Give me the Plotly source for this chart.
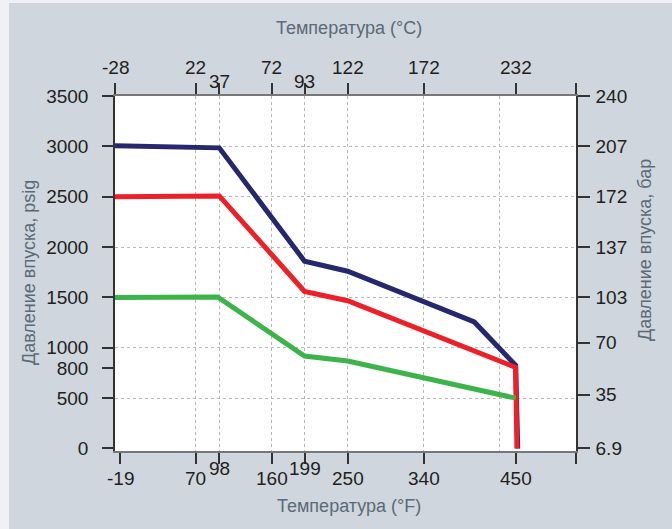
import plotly.graph_objects as go

# ---- data ----
navy_f = [-25.5, 90, 98, 199, 250, 400, 449, 451.5]
navy_p = [3005, 2995, 2985, 1860, 1760, 1256, 825, 0]

red_f = [-25.5, 98, 199, 250, 449, 450.5]
red_p = [2500, 2508, 1560, 1467, 805, 0]

green_f = [-25.5, 96, 199, 250, 449]
green_p = [1500, 1505, 918, 869, 500]

# bottom axis (°F) ticks
f_ticks = [-19, 70, 98, 160, 199, 250, 340, 450]
f_labels = ["-19", "70", "98", "160", "199", "250", "340", "450"]
f_raised = [False, False, True, False, True, False, False, False]

# top axis (°C) ticks placed at equivalent °F positions
c_pos = [-25.4, 70, 98, 160, 199, 250, 340, 450]
c_labels = ["-28", "22", "37", "72", "93", "122", "172", "232"]
c_lowered = [False, False, True, False, True, False, False, False]

# vertical grid positions (°F)
x_grid = [70, 98, 160, 199, 250, 340, 430]

# left axis (psig)
psi_ticks = [0, 500, 800, 1000, 1500, 2000, 2500, 3000, 3500]
psi_grid = [500, 1000, 1500, 2000, 2500, 3000]

# right axis (bar) labels at psig positions
bar_pos = [0, 533, 1049, 1500, 2000, 2500, 3000, 3500]
bar_labels = ["6.9", "35", "70", "103", "137", "172", "207", "240"]

XR = [-25.5, 520.5]
YR = [-25, 3500]

NAVY = "#25286f"
RED = "#ee1f26"
GREEN = "#3bb54a"
PAPER = "#cfd6dd"
TXT = "#231f20"
TITLE = "#5a6a77"
FONT = "Liberation Sans, Arial, sans-serif"
TICK_SIZE = 19
TITLE_SIZE = 18

ML, MR, MT, MB = 115, 96, 96, 78
W, H = 672, 529
PW, PH = W - ML - MR, H - MT - MB

fig = go.Figure()
fig.add_trace(go.Scatter(x=navy_f, y=navy_p, mode="lines",
                         line=dict(color=NAVY, width=5), showlegend=False, hoverinfo="skip"))
fig.add_trace(go.Scatter(x=red_f, y=red_p, mode="lines",
                         line=dict(color=RED, width=5), showlegend=False, hoverinfo="skip"))
fig.add_trace(go.Scatter(x=green_f, y=green_p, mode="lines",
                         line=dict(color=GREEN, width=5), showlegend=False, hoverinfo="skip"))

gridstyle = dict(showgrid=True, gridcolor="#b8b8b8", griddash="3px,3px", gridwidth=1)

fig.update_layout(
    width=W, height=H,
    margin=dict(l=ML, r=MR, t=MT, b=MB, pad=0),
    paper_bgcolor=PAPER, plot_bgcolor="white",
    font=dict(family=FONT, size=TICK_SIZE, color=TXT),
    xaxis=dict(range=XR, tickmode="array", tickvals=f_ticks + [XR[1] - 0.1],
               showticklabels=False, ticks="outside", ticklen=11, tickwidth=1.5,
               tickcolor="#333", showline=True, linecolor="#777", linewidth=2,
               showgrid=False, zeroline=False, fixedrange=True),
    xaxis2=dict(range=XR, overlaying="x", side="top", tickmode="array",
                tickvals=c_pos + [XR[1] - 0.1], showticklabels=False,
                ticks="outside", ticklen=11, tickwidth=1.5, tickcolor="#333",
                showline=True, linecolor="#777", linewidth=2,
                showgrid=False, zeroline=False),
    xaxis3=dict(range=XR, overlaying="x", tickmode="array", tickvals=x_grid,
                showticklabels=False, ticks="", showline=False, zeroline=False,
                **gridstyle),
    yaxis=dict(range=YR, tickmode="array", tickvals=psi_ticks,
               ticktext=[str(v) for v in psi_ticks],
               ticks="outside", ticklen=11, tickwidth=1.5, tickcolor="#333",
               showline=True, linecolor="#333", linewidth=1.5,
               showgrid=False, zeroline=False, ticklabelstandoff=10),
    yaxis2=dict(range=YR, overlaying="y", side="right", tickmode="array",
                tickvals=bar_pos, ticktext=bar_labels,
                ticks="outside", ticklen=12, tickwidth=1.5, tickcolor="#333",
                showline=True, linecolor="#333", linewidth=1.5,
                showgrid=False, zeroline=False, ticklabelstandoff=2),
    yaxis3=dict(range=YR, overlaying="y", tickmode="array", tickvals=psi_grid,
                showticklabels=False, ticks="", showline=False, zeroline=False,
                **gridstyle),
)

# invisible traces to activate overlay axes
fig.add_trace(go.Scatter(x=[None], y=[None], xaxis="x2", yaxis="y2", showlegend=False))
fig.add_trace(go.Scatter(x=[None], y=[None], xaxis="x3", yaxis="y3", showlegend=False))

def py(pix):
    return (H - MB - pix) / PH

def px(pix):
    return (pix - ML) / PW

ann = []
for v, t, r in zip(f_ticks, f_labels, f_raised):
    ann.append(dict(x=v, xref="x", y=py(468.3 if r else 478.3), yref="paper",
                    text=t, showarrow=False, xanchor="center", yanchor="middle",
                    font=dict(size=TICK_SIZE, color=TXT)))
for v, t, l in zip(c_pos, c_labels, c_lowered):
    ann.append(dict(x=v if t != "-28" else v + 0.3, xref="x", y=py(81.7 if l else 67.3), yref="paper",
                    text=t, showarrow=False, xanchor="center", yanchor="middle",
                    font=dict(size=TICK_SIZE, color=TXT)))
ann.append(dict(x=px(348.5), xref="paper", y=py(505.5), yref="paper",
                text="Температура (°F)", showarrow=False, xanchor="center",
                yanchor="middle", font=dict(size=TITLE_SIZE, color=TITLE)))
ann.append(dict(x=px(348.5), xref="paper", y=py(28), yref="paper",
                text="Температура (°C)", showarrow=False, xanchor="center",
                yanchor="middle", font=dict(size=TITLE_SIZE, color=TITLE)))
ann.append(dict(x=px(29), xref="paper", y=py(273), yref="paper",
                text="Давление впуска, psig", showarrow=False, textangle=-90,
                xanchor="center", yanchor="middle", font=dict(size=TITLE_SIZE, color=TITLE)))
ann.append(dict(x=px(645), xref="paper", y=py(250), yref="paper",
                text="Давление впуска, бар", showarrow=False, textangle=-90,
                xanchor="center", yanchor="middle", font=dict(size=TITLE_SIZE, color=TITLE)))
fig.update_layout(annotations=ann)

# light strips at left and top edges of the picture
fig.update_layout(shapes=[
    dict(type="rect", xref="paper", yref="paper", x0=px(0), x1=px(9),
         y0=py(H), y1=py(0), fillcolor="#eef2f6", line=dict(width=0), layer="below"),
    dict(type="rect", xref="paper", yref="paper", x0=px(0), x1=px(W),
         y0=py(3), y1=py(0), fillcolor="#eef2f6", line=dict(width=0), layer="below"),
])

fig.write_html("out.html")
